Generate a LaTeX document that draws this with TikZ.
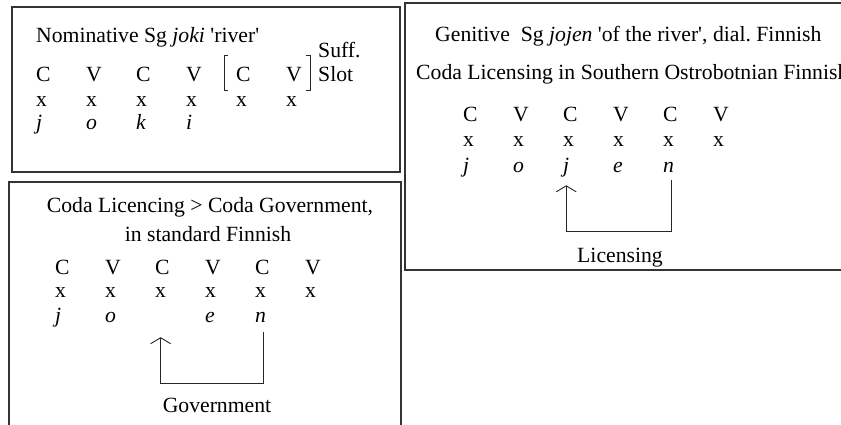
\documentclass[tikz,border=0pt]{standalone}
\usepackage{fontspec}
\setmainfont{Liberation Serif}
\usetikzlibrary{positioning,calc,arrows.meta}

\tikzset{
  frame/.style={draw=black!80, line width=1.3pt},
  seg/.style={inner sep=0pt, anchor=base west},
  caption/.style={inner sep=0pt, anchor=base},
  link/.style={draw=black!85, line width=0.9pt},
  linktip/.style={-{Straight Barb[length=6pt,width=20pt]}},
}

\begin{document}
\frenchspacing
\begin{tikzpicture}[x=1pt,y=-1pt,font=\fontsize{21.7}{25}\selectfont]
    \useasboundingbox (0,0) rectangle (841,425);
    \clip (0,0) rectangle (841,425);

    % Borders
    \draw[frame] (12,7) rectangle (400,172);
    \draw[frame] (405,3) rectangle (850,270);
    \draw[frame] (9,182) rectangle (401,440);

    % Nominative joki
    \node[seg] (nomtitle) at (36,43) {Nominative Sg \textit{joki} \textquotesingle river\textquotesingle};
    \foreach \l [count=\i] in {C,V,C,V,C,V}
      \node[seg] (nomcv\i) at ({36+50*(\i-1)},82) {\l};
    \foreach \i in {1, ..., 6}
      \node[seg] (nomx\i) at ({36+50*(\i-1)},107) {x};
    \foreach \i/\s in {1/j,2/o,3/k,4/i}
      \node[seg] (nomseg\i) at ({36+50*(\i-1)},130) {\textit{\s}};

    % suffix slot
    \draw[link] (228,55) -- (224,55) -- (224,90) -- (228,90);
    \draw[link] (306,55) -- (310,55) -- (310,90) -- (306,90);
    \node[seg] (suff) at (318,58) {Suff.};
    \node[seg] (slot) at (318,82) {Slot};

    % Genitive jojen
    \node[seg] (gentitle) at (435,42) {Genitive\hspace{0.5em}Sg \textit{jojen} \textquotesingle of the river\textquotesingle, dial. Finnish};
    \node[seg] (gensub) at (416,80) {Coda Licensing in Southern Ostrobotnian Finnish};
    \foreach \l [count=\i] in {C,V,C,V,C,V}
      \node[seg] (gencv\i) at ({463+50*(\i-1)},122) {\l};
    \foreach \i in {1, ..., 6}
      \node[seg] (genx\i) at ({463+50*(\i-1)},147) {x};
    \foreach \i/\s in {1/j,2/o,3/j,4/e,5/n}
      \node[seg] (genseg\i) at ({463+50*(\i-1)},172) {\textit{\s}};

    \draw[link,linktip] ([xshift=3pt,yshift=-8pt]genseg5.south) -- ++(0,51)
      -| ([yshift=-8.5pt]genseg3.south);
    \node[caption] (licensing) at (620,262) {Licensing};

    % Standard Finnish
    \node[caption] (stdtitle) at (210,212) {Coda Licencing > Coda Government,};
    \node[caption] (stdsub) at (208,241) {in standard Finnish};
    \foreach \l [count=\i] in {C,V,C,V,C,V}
      \node[seg] (stdcv\i) at ({55+50*(\i-1)},274) {\l};
    \foreach \i in {1, ..., 6}
      \node[seg] (stdx\i) at ({55+50*(\i-1)},297) {x};
    \foreach \i/\s in {1/j,2/o,4/e,5/n}
      \node[seg] (stdseg\i) at ({55+50*(\i-1)},322) {\textit{\s}};

    \draw[link,linktip] ([xshift=3pt,yshift=-10pt]stdseg5.south) -- ++(0,51)
      -| ([yshift=-40pt]stdx3.south);
    \node[caption] (government) at (217,412) {Government};
\end{tikzpicture}
\end{document}
